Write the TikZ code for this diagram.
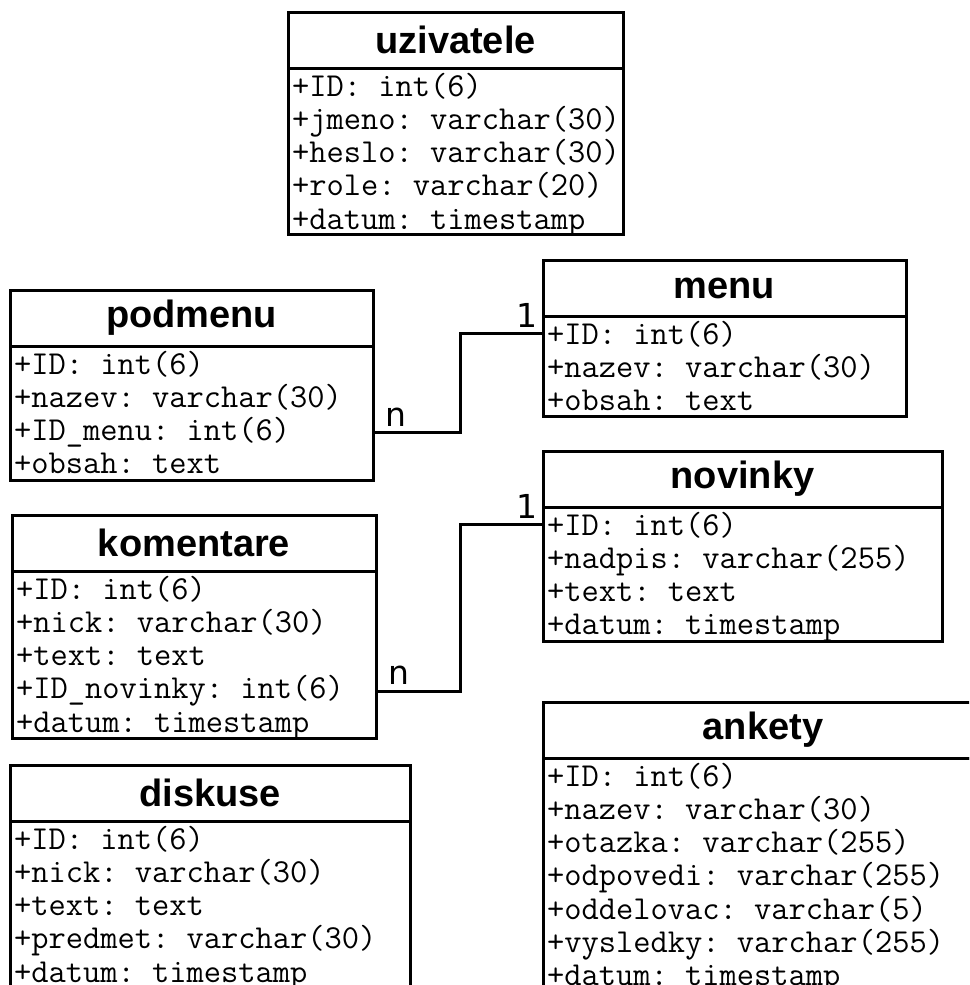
\documentclass[tikz,border=0pt]{standalone}
\usepackage{fontspec}
\setsansfont{Liberation Sans}
\newfontfamily\cardfont{DejaVu Sans}
\usetikzlibrary{calc, positioning}

\newcommand{\dbtable}[6]{%
	\node [tabhead, minimum width = #3, anchor = north west] (#1) at (#2) {#5};
	\node [tabbody, minimum width = #3, minimum height = #4, anchor = north west] (#1b) at (#1.south west) {};
	\begin{scope}
		\clip (#1b.north west) rectangle (#1b.south east);
		\foreach \f [count = \i] in {#6}
			\node [field] (#1f\i) at ($(#1b.north west) + (4, {33.2*\i - 5})$) {\f};
	\end{scope}
}

\begin{document}
\begin{tikzpicture}[x = 1pt, y = -1pt,
		tabhead/.style = {draw, line width = 3pt, outer sep = 0, inner sep = 0, minimum height = 56,
			font = \sffamily\bfseries\fontsize{38}{40}\selectfont},
		tabbody/.style = {draw, line width = 3pt, outer sep = 0, inner sep = 0},
		field/.style = {anchor = base west, inner sep = 0,
			font = \ttfamily\frenchspacing\fontsize{33.5}{34}\selectfont},
		rel/.style = {line width = 3pt},
		card/.style = {inner sep = 0, font = \cardfont\fontsize{33}{33}\selectfont}]
		\useasboundingbox (0,0) rectangle (969,985);
		\clip (0,0) rectangle (969,985);
		
		\dbtable{uzi}{288,12}{335}{166}{uzivatele}{+ID: int(6), +jmeno: varchar(30), +heslo: varchar(30), +role: varchar(20), +datum: timestamp}
		\dbtable{podm}{10,290}{363}{134}{podmenu}{+ID: int(6), +nazev: varchar(30), +ID\_menu: int(6), +obsah: text}
		\dbtable{menu}{543,260}{363}{100}{menu}{+ID: int(6), +nazev: varchar(30), +obsah: text}
		\dbtable{novi}{543,451}{399}{134}{novinky}{+ID: int(6), +nadpis: varchar(255), +text: text, +datum: timestamp}
		\dbtable{kome}{12,515}{364}{167}{komentare}{+ID: int(6), +nick: varchar(30), +text: text, +ID\_novinky: int(6), +datum: timestamp}
		\dbtable{disk}{10,765}{400}{170}{diskuse}{+ID: int(6), +nick: varchar(30), +text: text, +predmet: varchar(30), +datum: timestamp}
		\dbtable{anke}{543,702}{440}{240}{ankety}{+ID: int(6), +nazev: varchar(30), +otazka: varchar(255), +odpovedi: varchar(255), +oddelovac: varchar(5), +vysledky: varchar(255), +datum: timestamp}
		
		% vazby 1:n
		\coordinate (bendx) at (460,0);
		\coordinate (pmA) at (podmb.east |- podmf3);
		\coordinate (pmB) at (menub.west |- menuf1);
		\coordinate (knA) at (komeb.east |- komef4);
		\coordinate (knB) at (novib.west |- novif1);
		
		\draw [rel] (pmA) -- (pmA -| bendx) -- (pmB -| bendx) -- (pmB);
		\draw [rel] (knA) -- (knA -| bendx) -- (knB -| bendx) -- (knB);
		
		\node [card, above right = 6pt and 12pt of pmA] (pmN) {n};
		\node [card, above left = 6pt and 5pt of pmB] (pmJ) {1};
		\node [card, above right = 6pt and 12pt of knA] (knN) {n};
		\node [card, above left = 6pt and 5pt of knB] (knJ) {1};
	\end{tikzpicture}
\end{document}
